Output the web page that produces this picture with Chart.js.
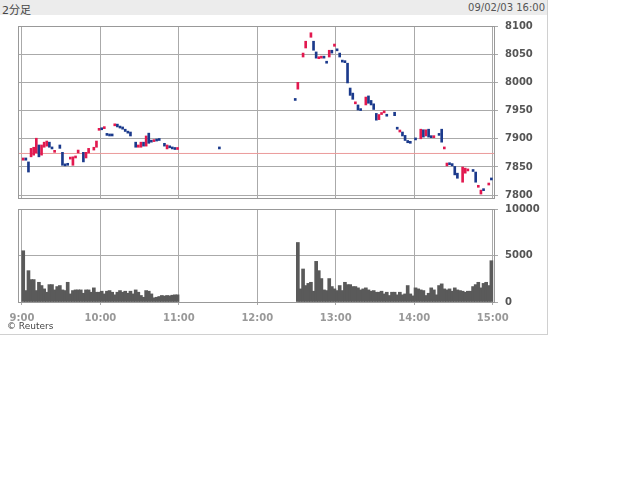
<!DOCTYPE html>
<html>
<head>
<meta charset="utf-8">
<script src="https://cdn.jsdelivr.net/npm/chart.js@4"></script>
<style>
  body { margin: 0; background: #fff; font-family: "DejaVu Sans", "Noto Sans CJK JP", sans-serif; }
  #wrap { position: absolute; left: 0; top: 0; width: 548px; height: 335px; border-right: 1px solid #d0d0d0; border-bottom: 1px solid #d0d0d0; box-sizing: border-box; }
  #head { position: absolute; left: 0; top: 0; width: 547px; height: 15px; background: #ececec; color: #444; }
  #head .l { position: absolute; left: 2px; top: 1px; font-size: 11px; }
  #head .r { position: absolute; right: 2px; top: 2px; font-size: 10px; color: #555; }
  #priceBox { position: absolute; left: 0; top: 13px; }
  #volBox { position: absolute; left: 0; top: 196px; }
  #copy { position: absolute; left: 7px; top: 321px; font-size: 9px; color: #444; }
</style>
</head>
<body>
<div id="wrap">
  <div id="head"><span class="l">2分足</span><span class="r">09/02/03 16:00</span></div>
  <div id="priceBox"><canvas id="price" width="548" height="198"></canvas></div>
  <div id="volBox"><canvas id="vol" width="548" height="142"></canvas></div>
  <div id="copy">© Reuters</div>
</div>
<script>
// 2分足: x = minutes from 9:00, each slot is 2 minutes
const hourTicks = [0, 60, 120, 180, 240, 300, 360];
const hourLabels = ['9:00', '10:00', '11:00', '12:00', '13:00', '14:00', '15:00'];
const priceTicks = [7800, 7850, 7900, 7950, 8000, 8050, 8100];
const volTicks = [0, 5000, 10000];
const prevClose = 7873.98;

// candles (slot index, open, close)
const candleSlot = [
  0, 1, 2, 3, 4, 5, 6, 7, 8, 9, 10, 11, 12, 14, 15, 16, 17, 18, 19, 20,
  21, 23, 24, 25, 27, 28, 29, 30, 31, 32, 33, 34, 35, 36, 37, 38, 39, 40, 41, 43,
  44, 45, 46, 47, 48, 49, 50, 51, 52, 54, 55, 56, 57, 58, 59,
  75, 104,
  105, 107, 108, 110, 111, 112, 113, 114, 115, 116, 117, 118, 119, 120, 121, 122, 123, 124, 125, 126,
  127, 128, 129, 131, 132, 133, 134, 135, 136, 137, 138, 139, 142, 143, 144, 145, 146, 147, 148, 150,
  152, 153, 154, 155, 156, 157, 159, 160, 161, 162, 163, 164, 165, 166, 168, 169, 170, 172, 173, 174,
  175, 176, 178, 179
];
const candleOpen = [
  7862, 7866, 7859, 7868, 7871, 7875, 7889, 7871, 7885, 7887, 7894, 7885, 7876, 7889, 7876, 7854, 7855, 7864, 7853, 7866,
  7875, 7876, 7866, 7875, 7880, 7885, 7915, 7918, 7918, 7908, 7908, 7907, 7923, 7926, 7921, 7921, 7917, 7913, 7912, 7894,
  7885, 7885, 7894, 7887, 7910, 7896, 7895, 7897, 7898, 7892, 7882, 7887, 7885, 7884, 7881,
  7884, 7970,
  7988, 8045, 8061, 8080, 8073, 8054, 8042, 8043, 8046, 8036, 8045, 8057, 8064, 8058, 8052, 8038, 8037, 8034, 7990, 7981,
  7962, 7960, 7953, 7960, 7976, 7968, 7962, 7945, 7934, 7943, 7946, 7942, 7947, 7920, 7912, 7912, 7906, 7897, 7895, 7900,
  7900, 7916, 7905, 7917, 7903, 7902, 7908, 7917, 7882, 7852, 7857, 7856, 7851, 7839, 7823, 7839, 7843, 7844, 7841, 7814,
  7802, 7811, 7818, 7830
];
const candleClose = [
  7866, 7862, 7841, 7883, 7885, 7901, 7868, 7889, 7894, 7896, 7885, 7882, 7878, 7883, 7853, 7852, 7853, 7866, 7868, 7868,
  7880, 7859, 7876, 7883, 7885, 7896, 7917, 7916, 7920, 7906, 7905, 7905, 7926, 7921, 7919, 7917, 7913, 7910, 7905, 7885,
  7889, 7894, 7887, 7905, 7892, 7894, 7896, 7896, 7897, 7887, 7889, 7884, 7882, 7881, 7883,
  7882, 7968,
  8000, 8052, 8073, 8088, 8057, 8043, 8045, 8046, 8043, 8034, 8057, 8052, 8068, 8056, 8045, 8036, 8035, 7999, 7977, 7970,
  7965, 7951, 7950, 7974, 7963, 7960, 7952, 7933, 7943, 7945, 7948, 7940, 7941, 7917, 7915, 7905, 7897, 7893, 7892, 7898,
  7917, 7903, 7916, 7903, 7902, 7903, 7906, 7894, 7885, 7857, 7854, 7852, 7836, 7830, 7850, 7848, 7846, 7842, 7823, 7817,
  7809, 7808, 7821, 7827
];

// volume, morning slots 0-59 and afternoon slots 105-179
const amVolume = [
  5510, 1230, 3370, 2410, 2410, 1230, 2120, 1770, 1410, 1050,
  1870, 1870, 1300, 1660, 1770, 1300, 1230, 2120, 870, 1230,
  1300, 1300, 1300, 940, 1300, 1300, 1050, 1520, 1050, 1050,
  1160, 870, 1160, 1230, 1050, 770, 1050, 1230, 1050, 1160,
  940, 1160, 870, 1300, 1050, 700, 510, 1230, 1160, 870,
  450, 510, 590, 700, 640, 700, 660, 730, 770, 770
];
const pmVolume = [
  6400, 1410, 3550, 1770, 2000, 2120, 1160, 4370, 3370, 2520,
  1300, 1230, 2520, 1660, 1410, 1230, 1770, 1230, 2120, 1870,
  1870, 1660, 1660, 1520, 1300, 1410, 1520, 1300, 1160, 1230,
  1050, 1050, 1160, 870, 1050, 700, 1050, 1050, 770, 1050,
  770, 870, 1770, 870, 660, 1520, 1410, 1300, 1230, 700,
  940, 1520, 1300, 770, 1770, 1950, 1410, 1300, 1410, 1160,
  1520, 1300, 1230, 1160, 1050, 1160, 1160, 1660, 1870, 2120,
  1520, 2000, 2120, 1770, 4440
];
const pmStartSlot = 105;

const slotX = s => s * 2 + 1;
const candles = candleSlot.map((s, i) => ({ x: slotX(s), y: [candleOpen[i], candleClose[i]] }));
const volumes = amVolume.map((v, i) => ({ x: slotX(i), y: v }))
  .concat(pmVolume.map((v, i) => ({ x: slotX(pmStartSlot + i), y: v })));

const gridColor = '#aaaaaa';
const axisFont = { family: 'DejaVu Sans', size: 10, weight: 'bold' };

// box around the plot area
const frame = {
  id: 'frame',
  afterDraw(chart) {
    const a = chart.chartArea, c = chart.ctx;
    c.save();
    c.strokeStyle = '#999';
    c.lineWidth = 1;
    c.strokeRect(Math.round(a.left) + 0.5, Math.round(a.top) + 0.5,
      Math.round(a.right - a.left), Math.round(a.bottom - a.top));
    c.restore();
  }
};

const xScale = (showLabels) => ({
  type: 'linear',
  min: -3,
  max: 361,
  offset: false,
  afterBuildTicks: s => { s.ticks = hourTicks.map(v => ({ value: v })); },
  ticks: {
    display: showLabels,
    color: '#999',
    font: axisFont,
    padding: 7,
    maxRotation: 0,
    autoSkip: false,
    callback: (v) => hourLabels[hourTicks.indexOf(v)]
  },
  grid: { color: gridColor, offset: false, drawTicks: showLabels, tickLength: 3 },
  border: { display: false },
  afterFit: s => { if (!showLabels) s.height = 0; }
});

new Chart(document.getElementById('price'), {
  data: {
    datasets: [
      {
        type: 'line',
        data: [{ x: -3, y: prevClose }, { x: 361, y: prevClose }],
        borderColor: '#eb9a9a',
        borderWidth: 1,
        pointRadius: 0,
        order: 2
      },
      {
        type: 'bar',
        data: candles,
        backgroundColor: ctx => (ctx.raw.y[1] >= ctx.raw.y[0] ? '#e2194f' : '#1b3a8c'),
        barThickness: 2,
        minBarLength: 2,
        order: 1
      }
    ]
  },
  options: {
    responsive: false,
    animation: false,
    devicePixelRatio: 1,
    layout: { padding: { left: 18, top: 0, bottom: 0, right: 0 } },
    plugins: { legend: { display: false }, tooltip: { enabled: false } },
    scales: {
      x: xScale(false),
      y: {
        position: 'right',
        min: 7795,
        max: 8100,
        afterBuildTicks: s => { s.ticks = priceTicks.map(v => ({ value: v })); },
        ticks: { color: '#555', font: axisFont, padding: 7, callback: v => String(v) },
        grid: { color: gridColor, tickLength: 4 },
        border: { display: false },
        afterFit: s => { s.width = 54; }
      }
    }
  },
  plugins: [frame]
});

new Chart(document.getElementById('vol'), {
  type: 'bar',
  data: {
    datasets: [{
      data: volumes,
      backgroundColor: '#5a5a5a',
      barThickness: 3
    }]
  },
  options: {
    responsive: false,
    animation: false,
    devicePixelRatio: 1,
    layout: { padding: { left: 18, top: 0, bottom: 7, right: 0 } },
    plugins: { legend: { display: false }, tooltip: { enabled: false } },
    scales: {
      x: xScale(true),
      y: {
        position: 'right',
        min: 0,
        max: 10000,
        afterBuildTicks: s => { s.ticks = volTicks.map(v => ({ value: v })); },
        ticks: { color: '#555', font: axisFont, padding: 7, callback: v => String(v) },
        grid: { color: gridColor, tickLength: 4 },
        border: { display: false },
        afterFit: s => { s.width = 54; }
      }
    }
  },
  plugins: [frame]
});
</script>
</body>
</html>
